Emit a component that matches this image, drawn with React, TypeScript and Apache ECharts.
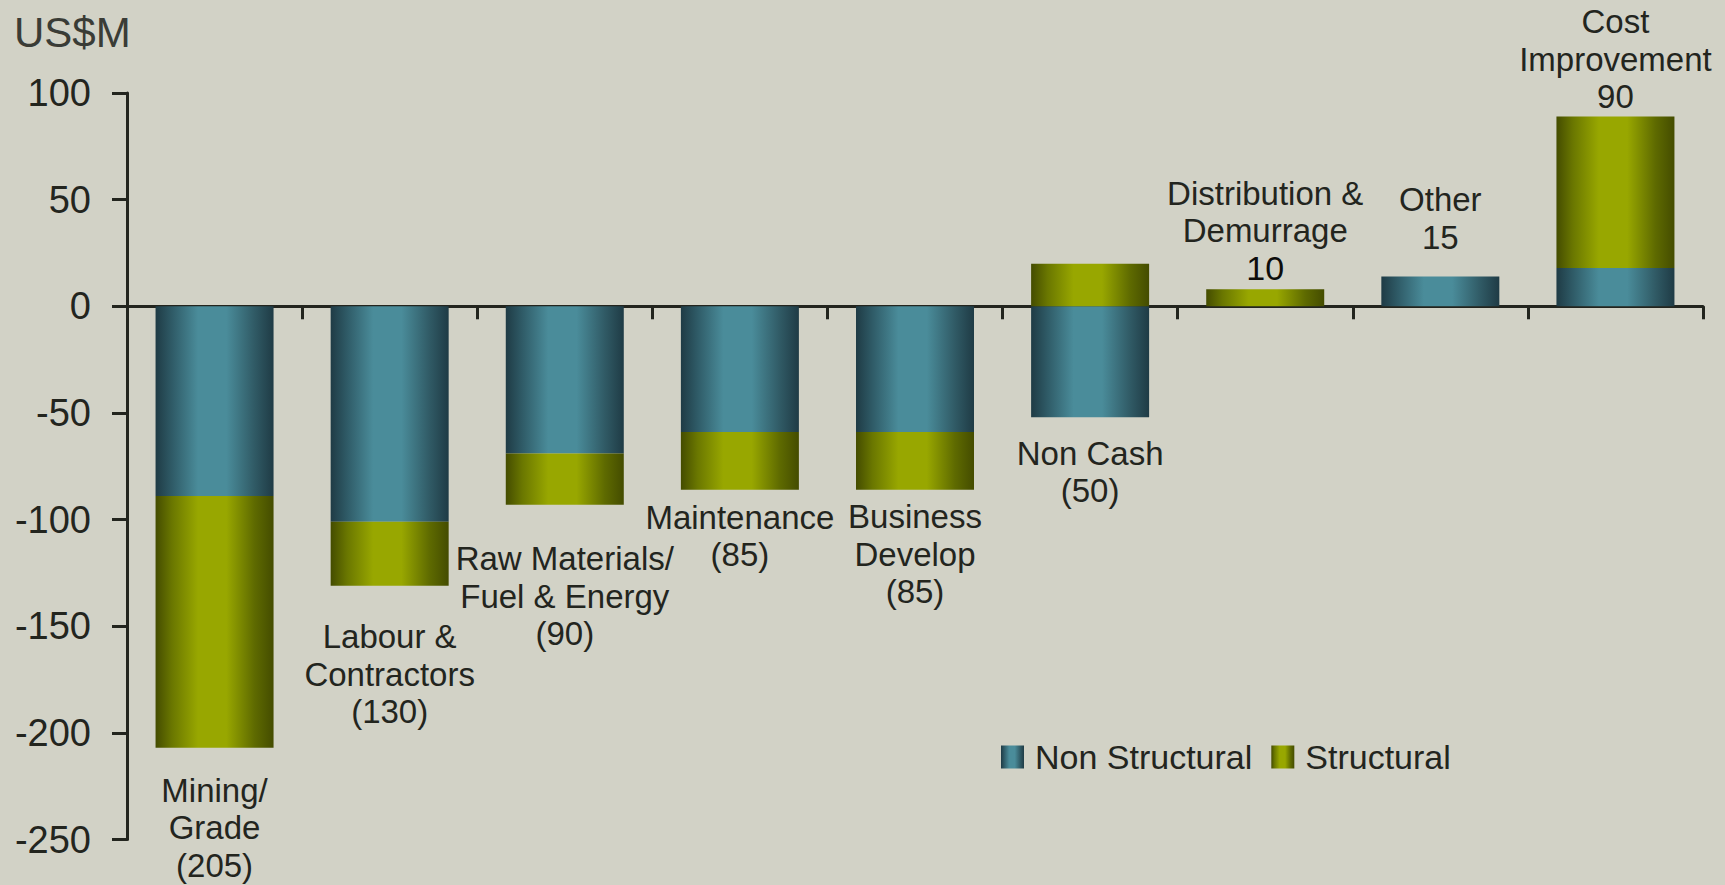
import React, { useEffect, useRef } from "react";
import * as echarts from "echarts";

const categories = [
  "Mining/Grade",
  "Labour & Contractors",
  "Raw Materials/Fuel & Energy",
  "Maintenance",
  "Business Develop",
  "Non Cash",
  "Distribution & Demurrage",
  "Other",
  "Cost Improvement",
];
const nonStructural = [-89, -101, -69, -59, -59, -52, 0, 14, 18];
const structural = [-118, -30, -24, -27, -27, 20, 8, 0, 71];
const labelText = [
  "Mining/\nGrade\n(205)",
  "Labour &\nContractors\n(130)",
  "Raw Materials/\nFuel & Energy\n(90)",
  "Maintenance\n(85)",
  "Business\nDevelop\n(85)",
  "Non Cash\n(50)",
  "Distribution &\nDemurrage\n{b|10}",
  "Other\n15",
  "Cost\nImprovement\n90",
];
// value-axis position of each label block centre
const labelAnchor = [-244.6, -172.5, -135.9, -107.6, -116.3, -77.6, 35.3, 41.1, 115.8];
const yTicks = { min: -250, max: 100, interval: 50 };

const FONT = "'Liberation Sans', Arial, sans-serif";
const TEXT = "#23251e";

const grad = (edge: string, mid1: string, light: string, mid2: string) =>
  new echarts.graphic.LinearGradient(0, 0, 1, 0, [
    { offset: 0, color: edge },
    { offset: 0.14, color: mid1 },
    { offset: 0.36, color: light },
    { offset: 0.6, color: light },
    { offset: 0.84, color: mid2 },
    { offset: 1, color: edge },
  ]);

export default function App() {
  const ref = useRef<HTMLDivElement>(null);
  useEffect(() => {
    document.body.style.margin = "0";
    const chart = echarts.init(ref.current!, null, { renderer: "svg" });
    const teal = grad("#1f3b45", "#2f5b67", "#4a8c9a", "#305a65");
    const olive = grad("#444c00", "#6a7700", "#98a700", "#5e6a00");
    chart.setOption({
      animation: false,
      backgroundColor: "#d2d2c6",
      textStyle: { fontFamily: FONT, color: TEXT },
      grid: { left: 127, right: 22, top: 93, bottom: 45.5, containLabel: false },
      graphic: [
        {
          type: "text",
          left: 14,
          top: 11,
          style: { text: "US$M", fontSize: 42, fontFamily: FONT, fill: "#3a3c36" },
        },
      ],
      legend: {
        data: ["Non Structural", "Structural"],
        left: 996,
        top: 735,
        itemWidth: 23,
        itemHeight: 23,
        itemGap: 19,
        icon: "rect",
        textStyle: { fontSize: 34, fontFamily: FONT, color: TEXT, padding: [0, 0, 0, 6] },
      },
      xAxis: {
        type: "category",
        data: categories,
        axisLine: { onZero: true, lineStyle: { color: TEXT, width: 3 } },
        axisTick: { show: true, interval: 0, length: 13, lineStyle: { color: TEXT, width: 3 } },
        axisLabel: { show: false, interval: 0 },
        splitLine: { show: false },
      },
      yAxis: {
        type: "value",
        min: yTicks.min,
        max: yTicks.max,
        interval: yTicks.interval,
        axisLine: { show: true, lineStyle: { color: TEXT, width: 3 } },
        axisTick: { show: true, length: 15, lineStyle: { color: TEXT, width: 3 } },
        axisLabel: { fontSize: 38, fontFamily: FONT, color: TEXT, margin: 36 },
        splitLine: { show: false },
      },
      series: [
        {
          name: "Non Structural",
          type: "bar",
          stack: "total",
          barWidth: 118,
          itemStyle: { color: teal },
          data: nonStructural,
        },
        {
          name: "Structural",
          type: "bar",
          stack: "total",
          barWidth: 118,
          itemStyle: { color: olive },
          data: structural,
        },
        {
          name: "labels",
          type: "scatter",
          silent: true,
          clip: false,
          symbolSize: 1,
          itemStyle: { color: "rgba(0,0,0,0)", opacity: 1 },
          z: 10,
          label: {
            show: true,
            position: "inside",
            opacity: 1,
            fontSize: 33,
            lineHeight: 37.5,
            fontFamily: FONT,
            color: TEXT,
            textBorderWidth: 0,
            align: "center",
            formatter: (p: any) => labelText[p.dataIndex],
            rich: {
              b: { fontSize: 34, lineHeight: 37.5, fontFamily: FONT, color: "#0d0d0b" },
            },
          },
          data: categories.map((c, i) => [c, labelAnchor[i]]),
        },
      ],
    });
    return () => chart.dispose();
  }, []);
  return <div ref={ref} style={{ width: 1725, height: 885 }} />;
}
